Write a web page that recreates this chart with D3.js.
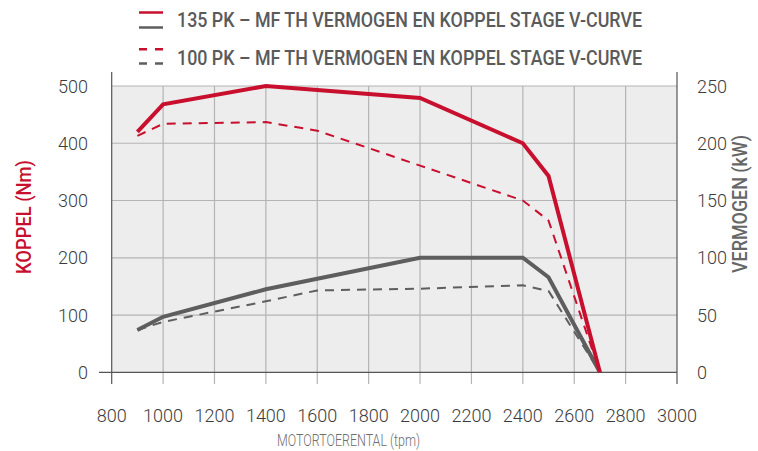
<!DOCTYPE html>
<html>
<head>
    <script src="https://cdn.jsdelivr.net/npm/d3@7/dist/d3.min.js"></script>
    <style>
        body { margin: 0; background: #fff; }
        text { font-family: "Liberation Sans Narrow", "Roboto", sans-serif; }
    </style>
</head>
<body>
    <svg width="758" height="451"></svg>
    <script>
        // rpm points
        var rpm = [900, 1000, 1400, 2000, 2400, 2500, 2700];
        var rpm100 = [900, 1000, 1400, 1600, 2000, 2400, 2500, 2700];

        // koppel (Nm) en vermogen (kW)
        var koppel135 = [420, 468, 500, 479, 400, 343, 0];
        var vermogen135 = [37, 48.5, 72.5, 100, 100, 83, 0];
        var koppel100 = [413, 434, 437, 422, 361, 300, 265, 0];
        var vermogen100 = [37, 44, 62, 71.5, 73, 76, 71, 0];

        var xTicks = [800, 1000, 1200, 1400, 1600, 1800, 2000, 2200, 2400, 2600, 2800, 3000];
        var leftTicks = [0, 100, 200, 300, 400, 500];
        var rightTicks = [0, 50, 100, 150, 200, 250];
        var legendLabels = ["135 PK \u2013 MF TH VERMOGEN EN KOPPEL STAGE V-CURVE",
                            "100 PK \u2013 MF TH VERMOGEN EN KOPPEL STAGE V-CURVE"];

        var red = "#c8102e";
        var grey = "#5e5e5f";

        var svg = d3.select("svg");

        var x = d3.scaleLinear().domain([800, 3000]).range([111.7, 677]);
        var yL = d3.scaleLinear().domain([0, 500]).range([372.3, 86]);
        var yR = d3.scaleLinear().domain([0, 250]).range([372.3, 86]);

        // achtergrond
        svg.append("rect")
            .attr("x", x(800)).attr("y", yL(500))
            .attr("width", x(3000) - x(800)).attr("height", yL(0) - yL(500))
            .attr("fill", "#ededed");

        // grid
        var grid = svg.append("g");
        grid.selectAll(".h").data(leftTicks.slice(1)).enter().append("line")
            .attr("x1", x(800)).attr("x2", x(3000))
            .attr("y1", d => yL(d)).attr("y2", d => yL(d))
            .attr("stroke", "#b4b4b6").attr("stroke-width", 1.2);
        grid.selectAll(".v").data(xTicks.slice(1, -1)).enter().append("line")
            .attr("x1", d => x(d)).attr("x2", d => x(d))
            .attr("y1", yL(500)).attr("y2", 384)
            .attr("stroke", "#b4b4b6").attr("stroke-width", 1.2);

        // assen
        svg.append("line").attr("x1", 99).attr("x2", x(3000))
            .attr("y1", yL(0)).attr("y2", yL(0))
            .attr("stroke", "#555").attr("stroke-width", 1.2);
        svg.append("line").attr("x1", x(800)).attr("x2", x(800))
            .attr("y1", 72).attr("y2", 384)
            .attr("stroke", "#555").attr("stroke-width", 1.2);
        svg.append("line").attr("x1", x(3000)).attr("x2", x(3000))
            .attr("y1", 72).attr("y2", 384)
            .attr("stroke", "#555").attr("stroke-width", 1.2);

        // tick labels
        svg.selectAll(".lt").data(leftTicks).enter().append("text")
            .attr("x", 88).attr("y", d => yL(d) + 6.5)
            .attr("text-anchor", "end").attr("font-size", 18).attr("font-weight", 300)
            .attr("fill", "#3c3c3c").text(d => d);
        svg.selectAll(".rt").data(rightTicks).enter().append("text")
            .attr("x", 697).attr("y", d => yR(d) + 6.5)
            .attr("font-size", 18).attr("font-weight", 300)
            .attr("fill", "#3c3c3c").text(d => d);
        svg.selectAll(".xt").data(xTicks).enter().append("text")
            .attr("x", d => x(d)).attr("y", 422)
            .attr("text-anchor", "middle").attr("font-size", 18).attr("font-weight", 300)
            .attr("fill", "#3c3c3c").text(d => d);

        // as titels
        svg.append("text").attr("x", 277).attr("y", 446)
            .attr("font-size", 17).attr("font-weight", 300)
            .attr("textLength", 143).attr("lengthAdjust", "spacingAndGlyphs")
            .attr("fill", "#6e6e6e").text("MOTORTOERENTAL (tpm)");
        svg.append("text")
            .attr("transform", "translate(31,274) rotate(-90)")
            .attr("font-size", 20).attr("font-weight", 500)
            .attr("textLength", 114).attr("lengthAdjust", "spacingAndGlyphs")
            .attr("fill", red).text("KOPPEL (Nm)");
        svg.append("text")
            .attr("transform", "translate(747,273) rotate(-90)")
            .attr("font-size", 20).attr("font-weight", 500)
            .attr("textLength", 138).attr("lengthAdjust", "spacingAndGlyphs")
            .attr("fill", "#666").text("VERMOGEN (kW)");

        // lijnen
        var lineL = d3.line().x(d => x(d[0])).y(d => yL(d[1]));
        var lineR = d3.line().x(d => x(d[0])).y(d => yR(d[1]));

        svg.append("path").datum(d3.zip(rpm100, vermogen100))
            .attr("d", lineR).attr("fill", "none")
            .attr("stroke", grey).attr("stroke-width", 2).attr("stroke-dasharray", "9,7");
        svg.append("path").datum(d3.zip(rpm100, koppel100))
            .attr("d", lineL).attr("fill", "none")
            .attr("stroke", red).attr("stroke-width", 2).attr("stroke-dasharray", "9,7");
        svg.append("path").datum(d3.zip(rpm, vermogen135))
            .attr("d", lineR).attr("fill", "none")
            .attr("stroke", grey).attr("stroke-width", 4);
        svg.append("path").datum(d3.zip(rpm, koppel135))
            .attr("d", lineL).attr("fill", "none")
            .attr("stroke", red).attr("stroke-width", 4);

        // legenda
        var leg = svg.append("g");
        leg.append("line").attr("x1", 139).attr("x2", 163).attr("y1", 12.5).attr("y2", 12.5)
            .attr("stroke", red).attr("stroke-width", 2.5);
        leg.append("line").attr("x1", 139).attr("x2", 163).attr("y1", 27.5).attr("y2", 27.5)
            .attr("stroke", grey).attr("stroke-width", 2.5);
        leg.append("line").attr("x1", 139).attr("x2", 163).attr("y1", 49.3).attr("y2", 49.3)
            .attr("stroke", red).attr("stroke-width", 2.5).attr("stroke-dasharray", "8,8");
        leg.append("line").attr("x1", 139).attr("x2", 163).attr("y1", 63.5).attr("y2", 63.5)
            .attr("stroke", grey).attr("stroke-width", 2.5).attr("stroke-dasharray", "8,8");
        leg.selectAll("text").data(legendLabels).enter().append("text")
            .attr("x", 177).attr("y", (d, i) => i === 0 ? 27 : 65)
            .attr("font-size", 21).attr("font-weight", 500)
            .attr("fill", "#5a5a5a")
            .attr("textLength", 465).attr("lengthAdjust", "spacingAndGlyphs")
            .text(d => d);
    </script>
</body>
</html>
